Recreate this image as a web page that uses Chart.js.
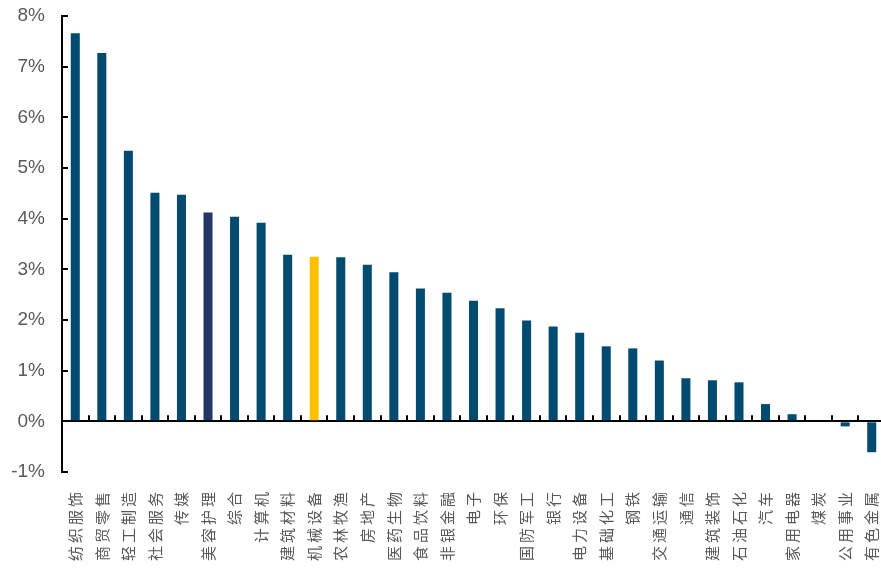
<!DOCTYPE html>
<html>
<head>
<meta charset="utf-8">
<script src="https://cdn.jsdelivr.net/npm/chart.js@4"></script>
<style>
html, body { margin: 0; padding: 0; background: #fff; overflow: hidden; }
#wrap { width: 885px; height: 568px; }
</style>
</head>
<body>
<div id="wrap"><canvas id="industry-canvas"></canvas></div>
<script>
var industries = [
    "纺织服饰", "商贸零售", "轻工制造", "社会服务", "传媒", "美容护理", "综合", "计算机",
    "建筑材料", "机械设备", "农林牧渔", "房地产", "医药生物", "食品饮料", "非银金融", "电子",
    "环保", "国防军工", "银行", "电力设备", "基础化工", "钢铁", "交通运输", "通信",
    "建筑装饰", "石油石化", "汽车", "家用电器", "煤炭", "公用事业", "有色金属"
];
var returns = [
    7.66, 7.27, 5.34, 4.51, 4.47, 4.12, 4.04, 3.92,
    3.29, 3.25, 3.24, 3.09, 2.94, 2.62, 2.54, 2.38,
    2.23, 1.99, 1.87, 1.75, 1.48, 1.44, 1.20, 0.85,
    0.81, 0.77, 0.34, 0.14, 0.00, -0.10, -0.61
];
var yMin = -1;
var yMax = 8;

// highlighted industries
function barColor(ctx) {
    var name = industries[ctx.dataIndex];
    if (name === "机械设备") return "#FFC000";
    if (name === "美容护理") return "#223764";
    return "#014B70";
}

// small tick marks pointing into the plot
var innerTicks = {
    id: "innerTicks",
    afterDatasetsDraw: function (chart) {
        var ctx = chart.ctx, x = chart.scales.x, y = chart.scales.y;
        var zero = y.getPixelForValue(0);
        ctx.save();
        ctx.strokeStyle = "#000";
        ctx.lineWidth = 2;
        ctx.beginPath();
        y.ticks.forEach(function (t) {
            var py = Math.round(y.getPixelForValue(t.value));
            ctx.moveTo(x.left, py);
            ctx.lineTo(x.left + 6, py);
        });
        for (var i = 1; i < industries.length; i++) {
            var px = Math.round((x.getPixelForValue(i - 1) + x.getPixelForValue(i)) / 2);
            ctx.moveTo(px, zero);
            ctx.lineTo(px, zero - 6);
        }
        ctx.stroke();
        ctx.restore();
    }
};

var chartElement = document.getElementById("industry-canvas");
var industryChart = new Chart(chartElement, {
    type: "bar",
    data: {
        labels: industries,
        datasets: [{
            data: returns,
            backgroundColor: barColor,
            barPercentage: 0.34,
            categoryPercentage: 1
        }]
    },
    options: {
        responsive: true,
        maintainAspectRatio: false,
        animation: false,
        layout: { padding: { top: 16, bottom: 0, right: 0, left: 0 } },
        plugins: {
            legend: { display: false },
            tooltip: { enabled: false }
        },
        scales: {
            x: {
                afterFit: function (scale) {
                    scale.height = 96;
                    scale.paddingLeft = 0;
                    scale.paddingRight = 0;
                },
                grid: { display: false },
                border: { display: false },
                ticks: {
                    autoSkip: false,
                    minRotation: 90,
                    maxRotation: 90,
                    padding: 12,
                    color: "#595959",
                    font: { family: "'Noto Sans CJK SC'", size: 15 },
                    callback: function (v, i) {
                        return industries[i].split("").join("\u2009");
                    }
                }
            },
            y: {
                min: yMin,
                max: yMax,
                afterFit: function (scale) {
                    scale.width = 62;
                    scale.paddingTop = 0;
                    scale.paddingBottom = 0;
                },
                border: { display: true, color: "#000", width: 2 },
                grid: {
                    drawTicks: false,
                    lineWidth: 2,
                    color: function (c) {
                        return c.tick && c.tick.value === 0 ? "#000" : "rgba(0,0,0,0)";
                    }
                },
                ticks: {
                    stepSize: 1,
                    padding: 17,
                    color: "#595959",
                    font: { family: "'Liberation Sans', Arial", size: 19 },
                    callback: function (v) { return v + "%"; }
                }
            }
        }
    },
    plugins: [innerTicks]
});
</script>
</body>
</html>
